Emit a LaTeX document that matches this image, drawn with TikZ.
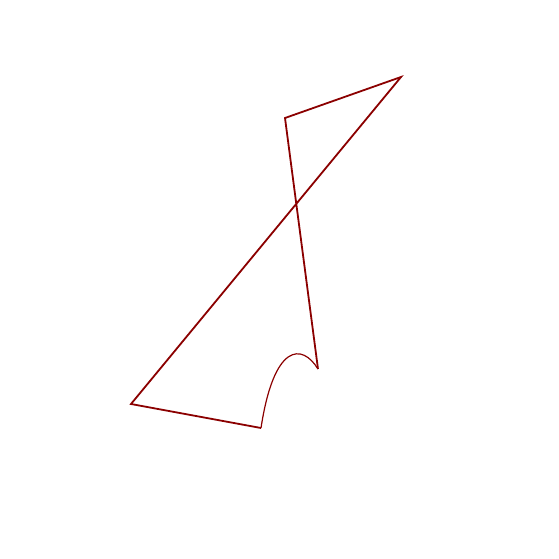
\documentclass[tikz,border=0pt]{standalone}
\definecolor{dred}{RGB}{139,0,0}
\begin{document}
\begin{tikzpicture}[x=1pt,y=-1pt,
  edge/.style={draw=dred,line width=1.8pt,line join=miter},
  curv/.style={draw=dred,line width=1.2pt}]
\useasboundingbox (0,0) rectangle (558,559);
\coordinate (a) at (401,77);
\coordinate (b) at (285,118);
\coordinate (c) at (318,369);
\coordinate (d) at (261,428);
\coordinate (e) at (131,404);
\draw[edge] (d) -- (e) -- (a) -- (b) -- (c);
\draw[curv] (c) .. controls (302,343) and (274,343) .. (d);
\end{tikzpicture}
\end{document}
